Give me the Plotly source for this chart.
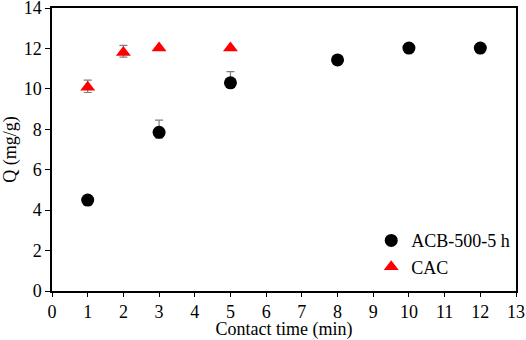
import plotly.graph_objects as go

acb_x = [1, 3, 5, 8, 10, 12]
acb_y = [4.5, 7.85, 10.3, 11.43, 12.02, 12.02]
acb_err_plus = [0.15, 0.6, 0.55, 0.0, 0.0, 0.0]
acb_err_minus = [0.25, 0.27, 0.0, 0.0, 0.0, 0.0]

cac_x = [1, 2, 3, 5]
cac_y = [10.08, 11.8, 12.02, 12.02]
cac_err_plus = [0.35, 0.35, 0.0, 0.0]
cac_err_minus = [0.26, 0.23, 0.0, 0.0]

x_ticks = list(range(0, 14))
y_ticks = list(range(0, 15, 2))

font_family = "Liberation Serif, Times New Roman, serif"

fig = go.Figure()
fig.add_trace(go.Scatter(
    x=acb_x, y=acb_y, mode="markers", name="ACB-500-5 h",
    marker=dict(symbol="circle", size=13, color="black"),
    error_y=dict(type="data", array=acb_err_plus, arrayminus=acb_err_minus,
                 symmetric=False, color="#7f7f7f", thickness=1.2, width=4),
))
fig.add_trace(go.Scatter(
    x=cac_x, y=cac_y, mode="markers", name="CAC",
    marker=dict(symbol="triangle-up", size=13, color="red"),
    error_y=dict(type="data", array=cac_err_plus, arrayminus=cac_err_minus,
                 symmetric=False, color="#7f7f7f", thickness=1.2, width=4),
))

fig.update_layout(
    width=526, height=340,
    margin=dict(l=52, r=10, t=8, b=49, autoexpand=False),
    paper_bgcolor="white", plot_bgcolor="white",
    font=dict(family=font_family, size=18, color="black"),
    showlegend=True,
    legend=dict(x=0.688, y=0.243, xanchor="left", yanchor="top",
                bgcolor="rgba(0,0,0,0)", font=dict(size=18),
                itemwidth=30, tracegroupgap=4),
    xaxis=dict(range=[0, 13], tickvals=x_ticks, ticks="outside", ticklen=4,
               tickwidth=1, tickcolor="black", showline=True, linecolor="black",
               linewidth=1.5, mirror=True, showgrid=False, zeroline=False,
               automargin=False, ticklabeloverflow="allow",
               title=dict(text="Contact time (min)", standoff=0, font=dict(size=18)),
               tickfont=dict(size=18)),
    yaxis=dict(range=[0, 14.0001], tickvals=y_ticks, ticks="outside", ticklen=5,
               tickwidth=1, tickcolor="black", showline=True, linecolor="black",
               linewidth=1.5, mirror=True, showgrid=False, zeroline=False,
               automargin=False, ticklabeloverflow="allow",
               title=dict(text="Q (mg/g)", standoff=4, font=dict(size=18)),
               tickfont=dict(size=18)),
)

fig.write_html("out.html", config={"displayModeBar": False},
               post_script="document.body.style.margin='0';")
